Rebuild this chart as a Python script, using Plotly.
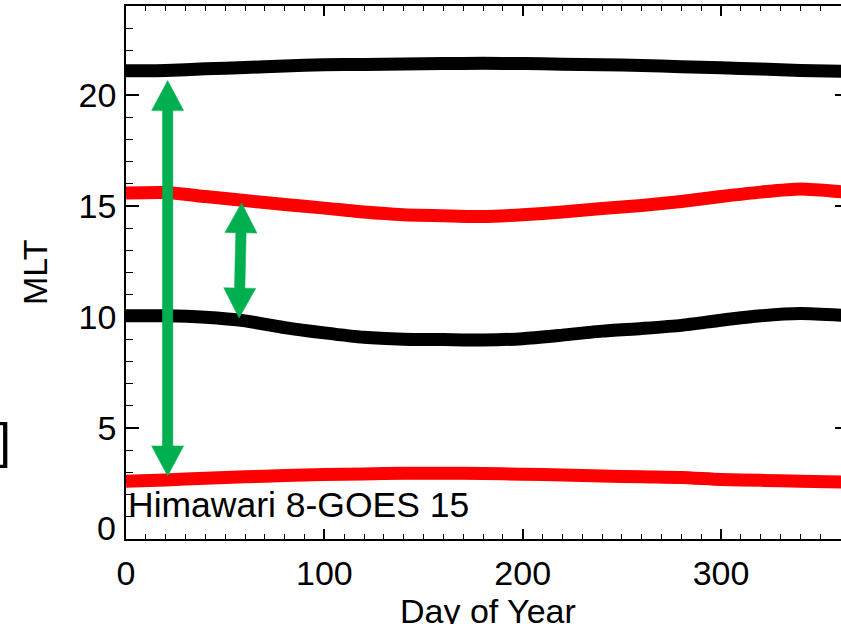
import math
import plotly.graph_objects as go

# ---- data ----
days = [0, 20, 40, 60, 80, 100, 120, 140, 160, 180, 200, 220, 240, 260, 280, 300, 320, 340, 365]
black_upper = [21.08, 21.10, 21.17, 21.23, 21.30, 21.35, 21.37, 21.39, 21.41, 21.42, 21.41, 21.38,
               21.36, 21.32, 21.27, 21.22, 21.16, 21.10, 21.06]
red_upper = [15.58, 15.60, 15.42, 15.24, 15.06, 14.90, 14.72, 14.60, 14.56, 14.52, 14.60, 14.72,
             14.88, 15.02, 15.20, 15.42, 15.62, 15.76, 15.60]
black_middle = [10.05, 10.05, 9.98, 9.82, 9.52, 9.28, 9.08, 9.00, 8.98, 8.96, 9.02, 9.18,
                9.36, 9.48, 9.62, 9.85, 10.05, 10.15, 10.05]
red_lower = [2.60, 2.66, 2.74, 2.80, 2.86, 2.90, 2.93, 2.96, 2.96, 2.95, 2.92, 2.88,
             2.84, 2.80, 2.77, 2.68, 2.64, 2.60, 2.56]

# double-headed arrows: (day0, day1), (mlt0, mlt1)
arrow_days_a = [21.0, 21.0]
arrow_mlt_a = [2.84, 20.64]
arrow_days_b = [57.0, 58.3]
arrow_mlt_b = [9.95, 15.14]

x_ticks = [0, 100, 200, 300]
y_ticks = [0, 5, 10, 15, 20]
y_ticklabels = ["", "5", "10", "15", "20"]
label_text = "Himawari 8-GOES 15"

# ---- layout geometry ----
W, H = 841, 624
ML, MR, MT, MB = 126, 0, 6, 85
plot_w = W - ML - MR
plot_h = H - MT - MB
X_MAX = 360.5
Y_MAX = 24.0
pxd = plot_w / X_MAX
pxm = plot_h / Y_MAX

GREEN = "#00B050"
FONT = "Liberation Sans, Arial, Helvetica, sans-serif"


def arrow_polygon(xd, ym, head_len=30.0, head_half=16.0, shaft_half=5.2):
    X0, Y0 = xd[0] * pxd, ym[0] * pxm
    X1, Y1 = xd[1] * pxd, ym[1] * pxm
    dx, dy = X1 - X0, Y1 - Y0
    L = math.hypot(dx, dy)
    ux, uy = dx / L, dy / L
    nx, ny = -uy, ux
    b1 = (X1 - head_len * ux, Y1 - head_len * uy)
    b0 = (X0 + head_len * ux, Y0 + head_len * uy)
    pts = [
        (X1, Y1),
        (b1[0] + head_half * nx, b1[1] + head_half * ny),
        (b1[0] + shaft_half * nx, b1[1] + shaft_half * ny),
        (b0[0] + shaft_half * nx, b0[1] + shaft_half * ny),
        (b0[0] + head_half * nx, b0[1] + head_half * ny),
        (X0, Y0),
        (b0[0] - head_half * nx, b0[1] - head_half * ny),
        (b0[0] - shaft_half * nx, b0[1] - shaft_half * ny),
        (b1[0] - shaft_half * nx, b1[1] - shaft_half * ny),
        (b1[0] - head_half * nx, b1[1] - head_half * ny),
        (X1, Y1),
    ]
    return [p[0] / pxd for p in pts], [p[1] / pxm for p in pts]


fig = go.Figure()
for ys, col in [(black_upper, "black"), (red_upper, "#FF0000"),
                (black_middle, "black"), (red_lower, "#FF0000")]:
    fig.add_trace(go.Scatter(x=days, y=ys, mode="lines",
                             line=dict(color=col, width=13, shape="spline", smoothing=0.6),
                             hoverinfo="skip", showlegend=False))

for ax, ay in [(arrow_days_a, arrow_mlt_a), (arrow_days_b, arrow_mlt_b)]:
    px_, py_ = arrow_polygon(ax, ay)
    fig.add_trace(go.Scatter(x=px_, y=py_, mode="lines", fill="toself",
                             fillcolor=GREEN, line=dict(color=GREEN, width=0.5),
                             hoverinfo="skip", showlegend=False))

# invisible trace for right-side tick stubs
fig.add_trace(go.Scatter(x=[0], y=[0], yaxis="y2", mode="markers",
                         marker=dict(opacity=0), hoverinfo="skip", showlegend=False))

tickfont = dict(family=FONT, size=34, color="black")

fig.update_layout(
    width=W, height=H,
    margin=dict(l=ML, r=MR, t=MT, b=MB, pad=0),
    paper_bgcolor="white", plot_bgcolor="white",
    xaxis=dict(range=[0, X_MAX], tickvals=x_ticks, ticks="inside", ticklen=10,
               tickwidth=1.5, tickcolor="black", showline=True, linewidth=1.5,
               linecolor="black", mirror="ticks", showgrid=False, zeroline=False,
               tickfont=tickfont, ticklabelstandoff=3,
               minor=dict(dtick=10, ticks="inside", ticklen=5, tickwidth=1.2,
                          tickcolor="black", showgrid=False)),
    yaxis=dict(range=[0, Y_MAX], tickvals=y_ticks, ticktext=y_ticklabels,
               ticks="inside", ticklen=13, tickwidth=1.5, tickcolor="black",
               showline=True, linewidth=1.5, linecolor="black", mirror=False,
               showgrid=False, zeroline=False, tickfont=tickfont, ticklabelstandoff=1,
               minor=dict(dtick=1, ticks="inside", ticklen=7, tickwidth=1.2,
                          tickcolor="black", showgrid=False)),
    yaxis2=dict(range=[0, Y_MAX], overlaying="y", side="right", anchor="x",
                tickvals=y_ticks, ticks="inside", ticklen=6, tickwidth=1.5,
                tickcolor="black", showticklabels=False, showline=False,
                showgrid=False, zeroline=False),
    showlegend=False,
)

fig.add_annotation(text=label_text, xref="paper", yref="y", x=(126 - ML) / plot_w, y=1.53,
                   xanchor="left", yanchor="middle", showarrow=False,
                   font=dict(family=FONT, size=35.5, color="black"))
fig.add_annotation(text="0", xref="paper", yref="y", x=-8 / plot_w, y=0,
                   xanchor="right", yanchor="middle", yshift=11, showarrow=False,
                   font=tickfont)
fig.add_annotation(text="MLT", xref="paper", yref="paper", x=(34.5 - ML) / plot_w,
                   y=(MT + plot_h - 272.5) / plot_h, xanchor="center", yanchor="middle",
                   textangle=-90, showarrow=False, font=dict(family=FONT, size=34, color="black"))
fig.add_annotation(text="Day of Year", xref="paper", yref="paper", x=(488 - ML) / plot_w,
                   y=(MT + plot_h - 589.5) / plot_h, xanchor="center", yanchor="top",
                   showarrow=False, font=dict(family=FONT, size=34, color="black"))
fig.add_annotation(text="]", xref="paper", yref="y", x=(13 - ML) / plot_w, y=4.41,
                   xanchor="right", yanchor="middle", showarrow=False,
                   font=dict(family=FONT, size=50, color="black"))

fig.write_html("out.html")
